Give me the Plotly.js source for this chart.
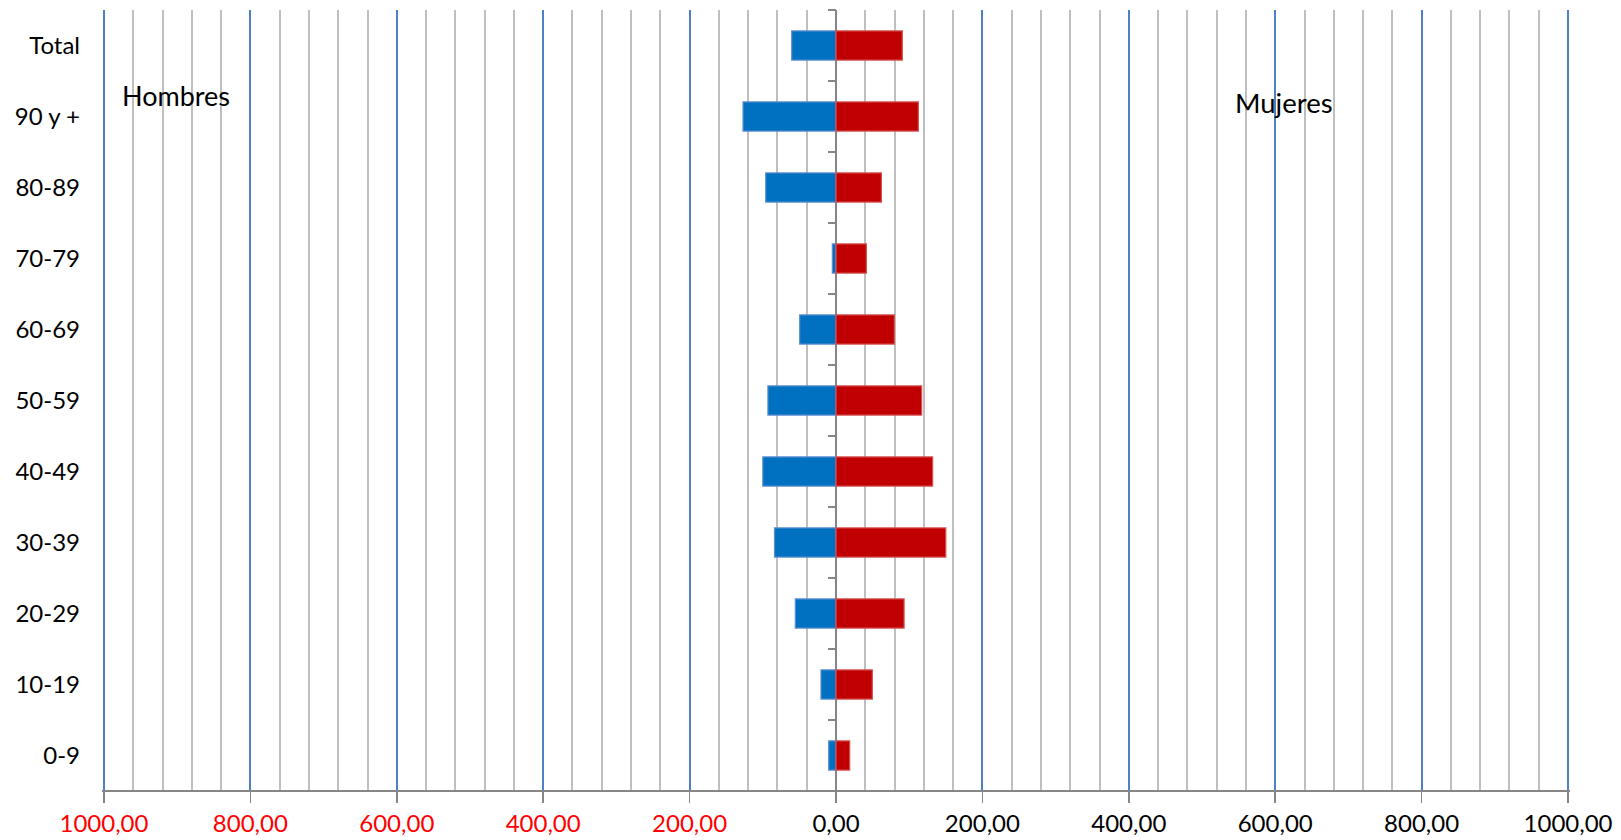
<!DOCTYPE html>
<html>
<head>
<meta charset="utf-8">
<script src="https://cdn.plot.ly/plotly-3.0.1.min.js"></script>
<style>html,body{margin:0;padding:0;background:#fff;}#chart{width:1621px;height:840px;}</style>
</head>
<body>
<div id="chart"></div>
<script>
// Categories bottom -> top
const categories = ['0-9','10-19','20-29','30-39','40-49','50-59','60-69','70-79','80-89','90 y +','Total'];
const hombres = [10, 20.5, 55.6, 84, 100, 93, 49.6, 5, 96, 127, 60.5];
const mujeres = [18.7, 49.6, 93, 150, 132, 117, 79.7, 41.5, 62, 112.5, 90.6];
const xTickVals = [-1000,-800,-600,-400,-200,0,200,400,600,800,1000];
const xTickText = ['1000,00','800,00','600,00','400,00','200,00','0,00','200,00','400,00','600,00','800,00','1000,00'];

const tickText = xTickVals.map((v,i)=> v<0 ? '<span style="color:#ff0000">'+xTickText[i]+'</span>' : xTickText[i]);

const traces = [
  {type:'bar', orientation:'h', y:categories, x:hombres.map(v=>-v), name:'Hombres',
   marker:{color:'#0070C0', line:{color:'#5b8fd0', width:1.2}}},
  {type:'bar', orientation:'h', y:categories, x:mujeres, name:'Mujeres',
   marker:{color:'#C00000', line:{color:'#d65050', width:1.2}}},
  {type:'scatter', mode:'markers', y:categories, x:categories.map(()=>0), yaxis:'y2',
   marker:{opacity:0}, hoverinfo:'skip', showlegend:false}
];

const fam = 'Lato, "Open Sans", sans-serif';

const layout = {
  width:1621, height:840,
  margin:{l:102, r:51, t:10, b:49, pad:0},
  paper_bgcolor:'#fff', plot_bgcolor:'#fff',
  barmode:'relative', bargap:0.59,
  showlegend:false,
  font:{family:fam, size:24, color:'#000'},
  xaxis:{
    range:[-1002.7,1002.7], tickmode:'array', tickvals:xTickVals, ticktext:tickText,
    showgrid:true, gridcolor:'#4f81c7', gridwidth:2,
    minor:{tickmode:'linear', tick0:0, dtick:40, showgrid:true, gridcolor:'#bfbfbf', gridwidth:2, ticks:''},
    zeroline:true, zerolinecolor:'#868686', zerolinewidth:2,
    showline:false,
    ticks:'outside', ticklen:11, tickcolor:'#868686', tickwidth:1.5,
    tickfont:{family:fam, size:24, color:'#000'},
    fixedrange:true
  },
  yaxis:{
    type:'category', categoryorder:'array', categoryarray:categories,
    range:[-0.5,10.5],
    showgrid:false, zeroline:false, showline:false, ticks:'',
    ticklabelstandoff:21,
    tickfont:{family:fam, size:24, color:'#000'},
    fixedrange:true
  },
  yaxis2:{
    type:'category', categoryorder:'array', categoryarray:categories,
    range:[-0.5,10.5],
    overlaying:'y', anchor:'free', position:0.5, side:'left',
    showgrid:false, zeroline:false, showline:false, showticklabels:false,
    ticks:'outside', tickson:'boundaries', ticklen:8, tickcolor:'#868686', tickwidth:1.5,
    fixedrange:true
  },
  shapes:[
    {type:'line', xref:'paper', yref:'paper', x0:0, x1:1, y0:0, y1:0, line:{color:'#868686', width:2}, layer:'above'}
  ],
  annotations:[
    {x:-978, y:0.8906, xref:'x', yref:'paper', text:'Hombres', showarrow:false, xanchor:'left', yanchor:'middle',
     font:{family:fam, size:27, color:'#000'}},
    {x:542, y:0.8816, xref:'x', yref:'paper', text:'Mujeres', showarrow:false, xanchor:'left', yanchor:'middle',
     font:{family:fam, size:27.5, color:'#000'}}
  ]
};

Plotly.newPlot('chart', traces, layout, {displayModeBar:false, staticPlot:true});
</script>
</body>
</html>
